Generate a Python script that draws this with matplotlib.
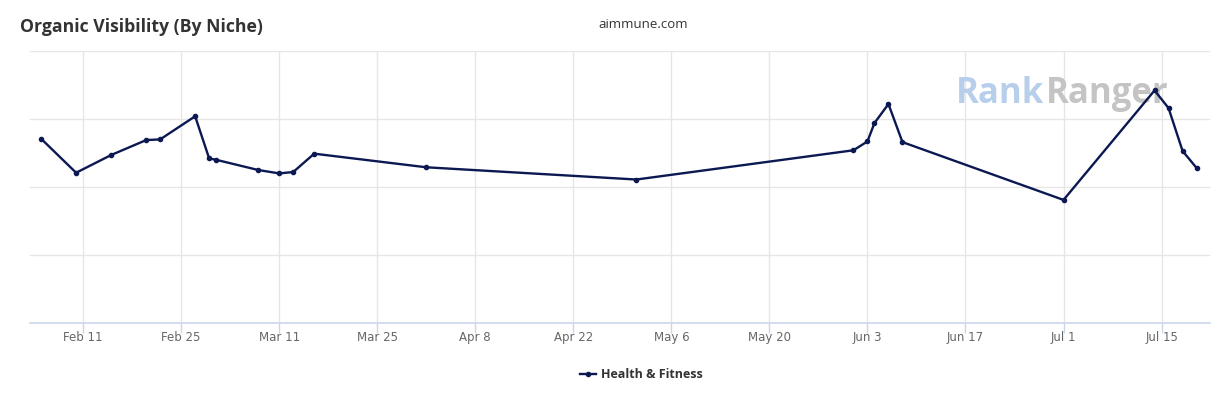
import numpy as np
import pandas as pd
import matplotlib
matplotlib.use("Agg")
import matplotlib.pyplot as plt
import matplotlib.dates as mdates

#-----------------------------------------------------#
# data (no y labels shown, so values are in grid units)

dates = ["2019-02-05", "2019-02-10", "2019-02-15", "2019-02-20", "2019-02-22",
         "2019-02-27", "2019-03-01", "2019-03-02", "2019-03-08", "2019-03-11",
         "2019-03-13", "2019-03-16", "2019-04-01", "2019-05-01", "2019-06-01",
         "2019-06-03", "2019-06-04", "2019-06-06", "2019-06-08", "2019-07-01",
         "2019-07-14", "2019-07-16", "2019-07-18", "2019-07-20"]
visibility = [2.71, 2.21, 2.47, 2.69, 2.70,
              3.04, 2.42, 2.40, 2.25, 2.20,
              2.22, 2.49, 2.29, 2.11, 2.54,
              2.67, 2.94, 3.22, 2.66, 1.81,
              3.42, 3.16, 2.53, 2.28]
series_name = "Health & Fitness"
site = "aimmune.com"
title = "Organic Visibility (By Niche)"

#-----------------------------------------------------#

x = pd.to_datetime(dates)
navy = "#0c1852"

fig = plt.figure(figsize=(12.21, 4.02), dpi=100)
ax = fig.add_axes([30 / 1221, 78 / 402, 1180 / 1221, 272 / 402])

ax.plot(x, visibility, color=navy, lw=1.7, marker="o", ms=3, zorder=3)

ax.set_xlim(pd.Timestamp("2019-02-03 10:00"), pd.Timestamp("2019-07-21 22:00"))
ax.set_ylim(0, 4)
ax.set_yticks([0, 1, 2, 3, 4])
ax.set_yticklabels([])
ax.tick_params(axis="y", length=0)

ticks = pd.date_range("2019-02-11", "2019-07-15", freq="14D")
ax.set_xticks(ticks)
ax.xaxis.set_major_formatter(mdates.DateFormatter("%b %-d"))
ax.tick_params(axis="x", colors="#ccd6eb", length=7, width=1, labelcolor="#666666",
               labelsize=8.5, pad=-2)

ax.grid(True, color="#e6e6e6", lw=1)
ax.set_axisbelow(True)
for s in ["top", "right", "left"]:
    ax.spines[s].set_visible(False)
ax.spines["bottom"].set_color("#ccd6eb")
ax.spines["bottom"].set_linewidth(1.2)

# watermark
ax.text(0.7845, 0.845, "Rank", transform=ax.transAxes, fontsize=25, fontweight="bold",
        color="#b8cfec", ha="left", va="center", zorder=1, family="Open Sans")
ax.text(0.861, 0.845, "Ranger", transform=ax.transAxes, fontsize=25, fontweight="bold",
        color="#c4c4c4", ha="left", va="center", zorder=1, family="Open Sans")

fig.text(20 / 1221, 1 - 27 / 402, title, fontsize=12.7, fontweight="bold",
         color="#333333", ha="left", va="center", family="Open Sans")
fig.text(643 / 1221, 1 - 25 / 402, site, fontsize=9.5, color="#333333",
         ha="center", va="center", family="Open Sans")

# legend
lx = 580 / 1221
ly = 1 - 375 / 402
fig.add_artist(plt.Line2D([lx, lx + 16 / 1221], [ly, ly], color=navy, lw=1.7,
                          transform=fig.transFigure))
fig.add_artist(plt.Line2D([lx + 8 / 1221], [ly], color=navy, marker="o", ms=3,
                          transform=fig.transFigure))
fig.text(601 / 1221, ly, series_name, fontsize=9, fontweight="bold", color="#333333",
         ha="left", va="center", family="Open Sans")

fig.savefig("out.png", dpi=100, facecolor="white")
